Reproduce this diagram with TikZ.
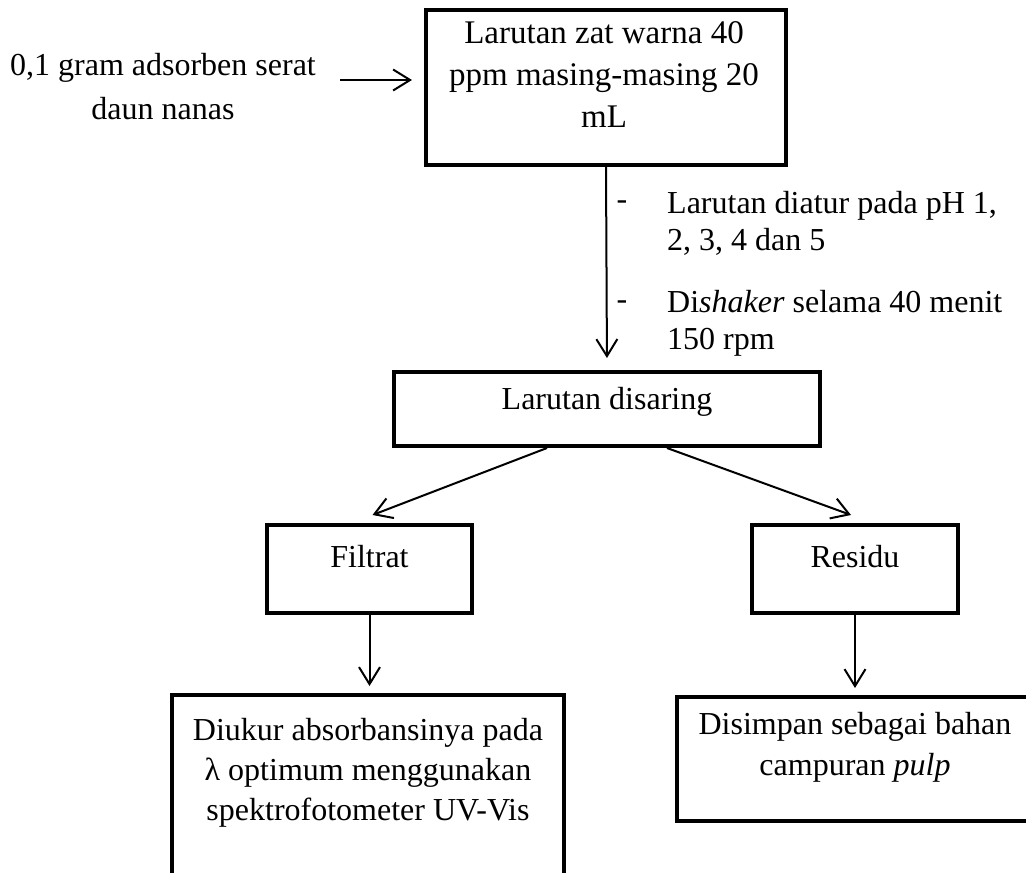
\documentclass[tikz,border=0pt]{standalone}
\usepackage{fontspec}
\setmainfont{Liberation Serif}
\usetikzlibrary{arrows.meta,calc}
\tikzset{
  box/.style={draw, line width=4pt, inner sep=0pt},
  txt/.style={inner sep=0pt, align=center, font=\fontsize{32}{40}\selectfont},
  arr/.style={line width=2pt, -{Straight Barb[length=17pt,width=21pt]}},
}
\begin{document}
\begin{tikzpicture}[x=1pt,y=-1pt]
\useasboundingbox (0,0) rectangle (1026,873);
\clip (0,0) rectangle (1026,873);
% boxes
\node[box, minimum width=360pt, minimum height=155pt] (b1) at (606,87.5) {};
\node[box, minimum width=426pt, minimum height=74pt] (b2) at (607,409) {};
\node[box, minimum width=205pt, minimum height=88pt] (f) at (369.5,569) {};
\node[box, minimum width=206pt, minimum height=88pt] (r) at (855,569) {};
\node[box, minimum width=392pt, minimum height=210pt] (d1) at (368,800) {};
\node[box, minimum width=370pt, minimum height=124pt] (d2) at (862,759) {};
% texts
\node[txt, font=\fontsize{32}{44}\selectfont] (src) at (163,87) {0,1 gram adsorben serat\\daun nanas};
\node[txt, font=\fontsize{33}{42}\selectfont] (t1) at (604,75) {Larutan zat warna 40\\ppm masing-masing 20\\mL};
\node[txt] (dash1) at (622,205) {-};
\node[txt, align=left, anchor=west, font=\fontsize{32}{37}\selectfont] (c1) at (667,223.5) {Larutan diatur pada pH 1,\\2, 3, 4 dan 5};
\node[txt] (dash2) at (622,305) {-};
\node[txt, align=left, anchor=west, font=\fontsize{32}{37}\selectfont] (c2) at (667,323.5) {Di\textit{shaker} selama 40 menit\\150 rpm};
\node[txt] (t2) at (607,402) {Larutan disaring};
\node[txt] (tf) at (369.5,557) {Filtrat};
\node[txt] (tr) at (855,557) {Residu};
\node[txt] (td1) at (368,773) {Diukur absorbansinya pada\\λ optimum menggunakan\\spektrofotometer UV-Vis};
\node[txt, font=\fontsize{32}{41}\selectfont] (td2) at (855,747.5) {Disimpan sebagai bahan\\campuran \textit{pulp}};
% connectors
\coordinate (ia) at (340,80);
\draw[arr, shorten >=12pt] (ia) -- (ia -| b1.west);
\draw[arr, shorten >=12pt] (b1.south) -- (b2.north);
\draw[arr] ($(b2.south)+(-60,0)$) -- ($(f.north)+(3,-8)$);
\draw[arr] ($(b2.south)+(60,0)$) -- ($(r.north)+(-4,-8)$);
\draw[arr, shorten >=7pt] (f.south) -- (f.south |- d1.north);
\draw[arr, shorten >=7pt] (r.south) -- (r.south |- d2.north);
\end{tikzpicture}
\end{document}
